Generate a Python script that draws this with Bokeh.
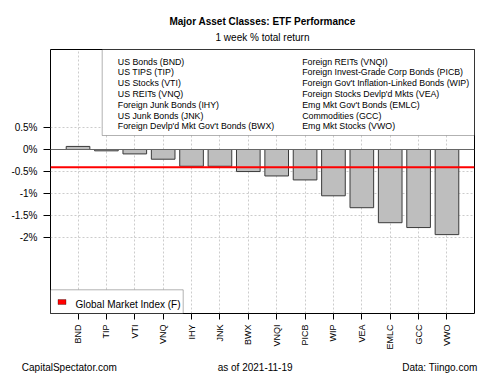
import math
from bokeh.plotting import figure
from bokeh.models import (Range1d, Span, BoxAnnotation, Label, FixedTicker,
                          Title, LinearAxis)
from bokeh.embed import file_html
from bokeh.resources import INLINE

# ---- data ----
tickers = ["BND", "TIP", "VTI", "VNQ", "IHY", "JNK", "BWX", "VNQI", "PICB",
           "WIP", "VEA", "EMLC", "GCC", "VWO"]
returns = [0.07, -0.03, -0.10, -0.22, -0.38, -0.38, -0.50, -0.60, -0.69,
           -1.05, -1.32, -1.66, -1.77, -1.93]
global_market = -0.40
names_left = ["US Bonds (BND)", "US TIPS (TIP)", "US Stocks (VTI)",
              "US REITs (VNQ)", "Foreign Junk Bonds (IHY)",
              "US Junk Bonds (JNK)", "Foreign Devlp'd Mkt Gov't Bonds (BWX)"]
names_right = ["Foreign REITs (VNQI)", "Foreign Invest-Grade Corp Bonds (PICB)",
               "Foreign Gov't Inflation-Linked Bonds (WIP)",
               "Foreign Stocks Devlp'd Mkts (VEA)", "Emg Mkt Gov't Bonds (EMLC)",
               "Commodities (GCC)", "Emg Mkt Stocks (VWO)"]
y_ticks = [0.5, 0.0, -0.5, -1.0, -1.5, -2.0]
y_tick_labels = ["0.5%", "0%", "-0.5%", "-1%", "-1.5%", "-2%"]
title = "Major Asset Classes: ETF Performance"
subtitle = "1 week % total return"
legend_label = "Global Market Index (F)"
footers = ["CapitalSpectator.com", "as of  2021-11-19", "Data: Tiingo.com"]

FONT = "Liberation Sans"
positions = list(range(len(tickers)))

# frame: x 50..474, y 49..313 on the 500x375 canvas
X0, X1 = -0.97, 13.97
FL, FW = 50, 424
def px_to_x(px):
    return X0 + (px - FL) * (X1 - X0) / FW

p = figure(width=500, height=375,
           x_range=Range1d(X0, X1), y_range=Range1d(-3.719, 2.268),
           toolbar_location=None, output_backend="svg",
           min_border_left=50, min_border_right=26,
           min_border_top=49, min_border_bottom=62,
           background_fill_color="white", border_fill_color="white")

p.outline_line_color = "black"
p.outline_line_width = 1

# titles (subtitle first so it sits nearer the frame)
sub_t = Title(text=subtitle, text_font=FONT, text_font_size="10px",
              text_font_style="normal", align="center", text_color="black",
              standoff=13)
main_t = Title(text=title, text_font=FONT, text_font_size="10px",
               text_font_style="bold", align="center", text_color="black",
               standoff=0)
try:
    main_t.standoff = -6
except Exception:
    sub_t.standoff = 11
    main_t.standoff = 0
p.add_layout(sub_t, "above")
p.add_layout(main_t, "above")

p.xgrid.ticker = FixedTicker(ticks=positions)
p.xgrid.grid_line_color = "#CCCCCC"
p.xgrid.grid_line_dash = "2 2"
p.ygrid.ticker = FixedTicker(ticks=y_ticks)
p.ygrid.grid_line_color = "#CCCCCC"
p.ygrid.grid_line_dash = "2 2"

p.vbar(x=positions, top=returns, bottom=0, width=1 / 1.2,
       fill_color="#BEBEBE", line_color="#3a3a3a", line_width=1)

p.add_layout(Span(location=0, dimension="width", line_color="#666666",
                  line_width=1))
p.add_layout(Span(location=global_market, dimension="width",
                  line_color="#FF0000", line_width=2))

ya = p.yaxis[0]
ya.ticker = FixedTicker(ticks=y_ticks)
ya.major_label_overrides = {t: l for t, l in zip(y_ticks, y_tick_labels)}
ya.axis_line_color = None
ya.major_tick_out = 7
ya.major_tick_in = 0
ya.minor_tick_line_color = None
ya.major_tick_line_color = "black"
ya.major_label_standoff = 6
ya.major_label_text_font = FONT
ya.major_label_text_font_size = "10px"
ya.major_label_text_color = "black"

xa = p.xaxis[0]
xa.ticker = FixedTicker(ticks=positions)
xa.major_label_overrides = {i: t for i, t in zip(positions, tickers)}
xa.axis_line_color = None
xa.major_tick_out = 6
xa.major_tick_in = 0
xa.minor_tick_line_color = None
xa.major_tick_line_color = "black"
xa.major_label_orientation = math.pi / 2
xa.major_label_standoff = 5
xa.major_label_text_font = FONT
xa.major_label_text_font_size = "9px"
xa.major_label_text_color = "black"

# footer line as an extra, tick-less axis below the chart
footer_ticks = [px_to_x(68.85), px_to_x(256.0), px_to_x(439.35)]
fa = LinearAxis(ticker=FixedTicker(ticks=footer_ticks),
                major_label_overrides={t: s for t, s in zip(footer_ticks, footers)},
                axis_line_color=None, major_tick_line_color=None,
                minor_tick_line_color=None, major_tick_out=0, major_tick_in=0,
                major_label_standoff=9, major_label_text_font=FONT,
                major_label_text_font_size="10px",
                major_label_text_color="black")
p.add_layout(fa, "below")

# top legend box (names)
p.add_layout(BoxAnnotation(left=51.7, left_units="screen",
                           bottom=178, bottom_units="screen",
                           fill_color="white", fill_alpha=1,
                           line_color="black", line_width=1))
for i, (nl, nr) in enumerate(zip(names_left, names_right)):
    yy = 61 + i * 10.83
    p.add_layout(Label(x=117.3, y=yy, x_units="canvas", y_units="canvas",
                       text=nl, text_font=FONT, text_font_size="8.8px",
                       text_baseline="middle", text_align="left",
                       text_color="black"))
    p.add_layout(Label(x=301.7, y=yy, x_units="canvas", y_units="canvas",
                       text=nr, text_font=FONT, text_font_size="8.8px",
                       text_baseline="middle", text_align="left",
                       text_color="black"))

# bottom legend box
p.add_layout(BoxAnnotation(right=132.7, right_units="screen",
                           top=23.7, top_units="screen",
                           fill_color="white", fill_alpha=1,
                           line_color="black", line_width=1))
p.add_layout(BoxAnnotation(left=7.5, right=15.5, bottom=9, top=14,
                           left_units="screen", right_units="screen",
                           bottom_units="screen", top_units="screen",
                           fill_color="#FF0000", fill_alpha=1,
                           line_color="black", line_width=1))
p.add_layout(Label(x=75, y=304, x_units="canvas", y_units="canvas",
                   text=legend_label, text_font=FONT, text_font_size="10px",
                   text_baseline="middle", text_align="left",
                   text_color="black"))

open("out.html", "w").write(file_html(p, INLINE))
